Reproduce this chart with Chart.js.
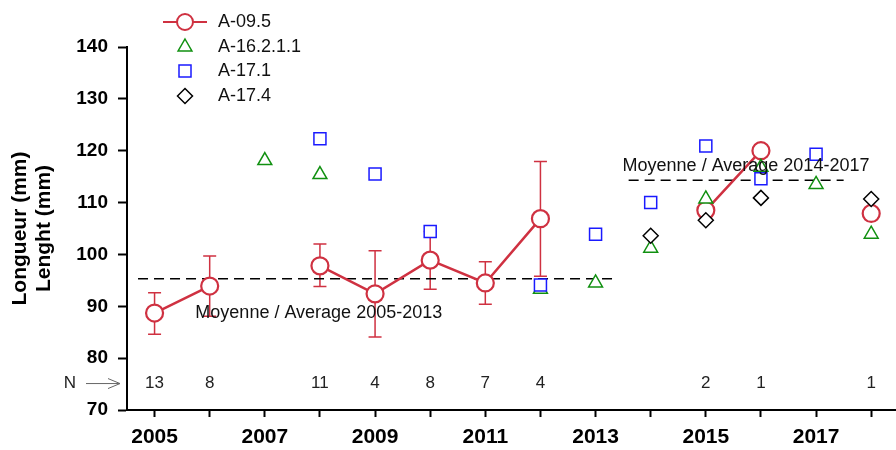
<!DOCTYPE html>
<html>
<head>
<meta charset="utf-8">
<script src="https://cdn.jsdelivr.net/npm/chart.js@4.4.0/dist/chart.umd.min.js"></script>
<style>
  body { margin: 0; background: #fff; }
  #wrap { width: 896px; height: 450px; }
</style>
</head>
<body>
<div id="wrap"><canvas id="lengthChart" width="896" height="450"></canvas></div>
<script>
const years = [2005, 2006, 2007, 2008, 2009, 2010, 2011, 2012, 2013, 2014, 2015, 2016, 2017, 2018];
const xLabelYears = [2005, 2007, 2009, 2011, 2013, 2015, 2017];
const seriesNames = ['A-09.5', 'A-16.2.1.1', 'A-17.1', 'A-17.4'];

const a095 = [88.7, 93.9, null, 97.8, 92.4, 98.9, 94.5, 106.9, null, null, 108.5, 120.0, null, 107.9];
const a095Low = [84.6, 88.1, null, 93.8, 84.1, 93.3, 90.4, 95.8, null, null, null, null, null, null];
const a095High = [92.6, 99.7, null, 102.0, 100.7, 104.4, 98.6, 117.9, null, null, null, null, null, null];
const a16211 = [null, null, 118.1, 115.4, null, null, null, 93.3, 94.5, 101.2, 110.7, 116.8, 113.5, 103.9];
const a171 = [null, null, null, 122.3, 115.5, 104.4, null, 94.1, 103.9, 110.0, 120.9, 114.6, 119.3, null];
const a174 = [null, null, null, null, null, null, null, null, null, 103.6, 106.6, 110.9, null, 110.7];
const nCounts = [13, 8, null, 11, 4, 8, 7, 4, null, null, 2, 1, null, 1];

const avgLabels = ['Moyenne / Average 2005-2013', 'Moyenne / Average 2014-2017'];
const avgValues = [95.3, 114.3];
const avgFrom = [2004.7, 2013.6];
const avgTo = [2013.3, 2017.5];

const RED = '#cf3141', GREEN = '#109010', BLUE = '#1a1aff';
const FONT = '"Liberation Sans", Arial, sans-serif';

function pts(arr) {
    return years.map((x, i) => ({ x: x, y: arr[i] }));
}

// where the two average captions sit (data units)
const avgTextAt = [{ x: 2005.74, y: 88.7 }, { x: 2013.49, y: 117.0 }];

const extras = {
    id: 'extras',
    beforeDatasetsDraw(chart) {
        const c = chart.ctx, xs = chart.scales.x, ys = chart.scales.y;
        c.save();
        c.strokeStyle = RED;
        c.lineWidth = 1.5;
        years.forEach((yr, i) => {
            if (a095Low[i] == null) return;
            const px = xs.getPixelForValue(yr);
            const lo = ys.getPixelForValue(a095Low[i]);
            const hi = ys.getPixelForValue(a095High[i]);
            c.beginPath();
            c.moveTo(px, lo); c.lineTo(px, hi);
            c.moveTo(px - 6.5, lo); c.lineTo(px + 6.5, lo);
            c.moveTo(px - 6.5, hi); c.lineTo(px + 6.5, hi);
            c.stroke();
        });
        c.restore();
    },
    afterDatasetsDraw(chart) {
        const c = chart.ctx, xs = chart.scales.x, ys = chart.scales.y;
        c.save();
        c.fillStyle = '#111';
        c.font = '18px ' + FONT;
        c.textBaseline = 'middle';
        c.textAlign = 'left';
        avgLabels.forEach((t, i) => {
            c.fillText(t, xs.getPixelForValue(avgTextAt[i].x), ys.getPixelForValue(avgTextAt[i].y));
        });

        // N row
        const ny = ys.getPixelForValue(75.1);
        c.font = '17px ' + FONT;
        c.textAlign = 'center';
        c.fillStyle = '#222';
        years.forEach((yr, i) => {
            if (nCounts[i] == null) return;
            c.fillText(String(nCounts[i]), xs.getPixelForValue(yr), ny);
        });
        c.fillText('N', 70, ny);
        c.strokeStyle = '#666';
        c.lineWidth = 1;
        c.beginPath();
        c.moveTo(86, ny); c.lineTo(120, ny);
        c.moveTo(108, ny - 5); c.lineTo(120, ny); c.lineTo(108, ny + 5);
        c.stroke();

        // legend
        const lx = 185, rows = [22, 47, 71, 96];
        c.lineWidth = 2;
        c.strokeStyle = RED;
        c.beginPath(); c.moveTo(163, rows[0]); c.lineTo(207, rows[0]); c.stroke();
        c.fillStyle = '#fff';
        c.beginPath(); c.arc(lx, rows[0], 8, 0, Math.PI * 2); c.fill(); c.stroke();

        c.strokeStyle = GREEN;
        c.lineWidth = 1.5;
        c.beginPath();
        c.moveTo(lx, rows[1] - 8); c.lineTo(lx + 6.9, rows[1] + 4); c.lineTo(lx - 6.9, rows[1] + 4);
        c.closePath(); c.stroke();

        c.strokeStyle = BLUE;
        c.strokeRect(lx - 6, rows[2] - 6, 12, 12);

        c.strokeStyle = '#000';
        c.beginPath();
        c.moveTo(lx, rows[3] - 7.5); c.lineTo(lx + 7.5, rows[3]); c.lineTo(lx, rows[3] + 7.5); c.lineTo(lx - 7.5, rows[3]);
        c.closePath(); c.stroke();

        c.fillStyle = '#111';
        c.font = '18px ' + FONT;
        c.textAlign = 'left';
        seriesNames.forEach((s, i) => c.fillText(s, 218, rows[i]));
        c.restore();
    }
};

const avgSets = avgLabels.map((t, i) => ({
    label: t,
    data: [{ x: avgFrom[i], y: avgValues[i] }, { x: avgTo[i], y: avgValues[i] }],
    showLine: true,
    borderColor: '#000',
    borderWidth: 1.6,
    borderDash: [10, 6],
    pointRadius: 0,
    order: 6
}));

const ctx = document.getElementById('lengthChart').getContext('2d');
const lengthChart = new Chart(ctx, {
    type: 'scatter',
    data: {
        datasets: [
            {
                label: seriesNames[0],
                data: pts(a095),
                showLine: true,
                spanGaps: false,
                borderColor: RED,
                borderWidth: 2.5,
                pointStyle: 'circle',
                pointRadius: 8.5,
                pointBorderWidth: 2.2,
                pointBorderColor: RED,
                pointBackgroundColor: '#fff',
                order: 5
            },
            {
                label: seriesNames[1],
                data: pts(a16211),
                pointStyle: 'triangle',
                pointRadius: 8,
                pointBorderWidth: 1.5,
                pointBorderColor: GREEN,
                pointBackgroundColor: '#fff',
                order: 4
            },
            {
                label: seriesNames[2],
                data: pts(a171),
                pointStyle: 'rect',
                pointRadius: 8.5,
                pointBorderWidth: 1.5,
                pointBorderColor: BLUE,
                pointBackgroundColor: '#fff',
                order: 3
            },
            {
                label: seriesNames[3],
                data: pts(a174),
                pointStyle: 'rectRot',
                pointRadius: 7.5,
                pointBorderWidth: 1.5,
                pointBorderColor: '#000',
                pointBackgroundColor: '#fff',
                order: 2
            },
            ...avgSets
        ]
    },
    options: {
        responsive: false,
        animation: false,
        layout: { autoPadding: false, padding: { top: 47, right: 0, left: 0, bottom: 0 } },
        plugins: {
            legend: { display: false },
            tooltip: { enabled: false }
        },
        scales: {
            x: {
                type: 'linear',
                min: 2004.5,
                max: 2018.45,
                afterBuildTicks: scale => { scale.ticks = years.map(v => ({ value: v })); },
                afterFit: scale => {
                    scale.height = 40;
                    scale.paddingLeft = 0;
                    scale.paddingRight = 0;
                },
                grid: { drawOnChartArea: false, drawTicks: true, tickLength: 7, tickWidth: 2, tickColor: '#000' },
                border: { display: true, color: '#000', width: 2 },
                ticks: {
                    autoSkip: false,
                    maxRotation: 0,
                    padding: 8,
                    color: '#000',
                    font: { family: FONT, size: 21, weight: 'bold' },
                    callback: v => xLabelYears.includes(v) ? String(v) : ''
                }
            },
            y: {
                min: 70,
                max: 140,
                afterFit: scale => { scale.width = 127; },
                grid: { drawOnChartArea: false, drawTicks: true, tickLength: 9, tickWidth: 2, tickColor: '#000' },
                border: { display: true, color: '#000', width: 2 },
                ticks: {
                    stepSize: 10,
                    padding: 10,
                    color: '#000',
                    font: { family: FONT, size: 19, weight: 'bold' }
                },
                title: {
                    display: true,
                    text: ['Longueur (mm)', 'Lenght (mm)'],
                    color: '#000',
                    font: { family: FONT, size: 21, weight: 'bold', lineHeight: 1.15 },
                    padding: { top: 8, bottom: 0 }
                }
            }
        }
    },
    plugins: [extras]
});
</script>
</body>
</html>
